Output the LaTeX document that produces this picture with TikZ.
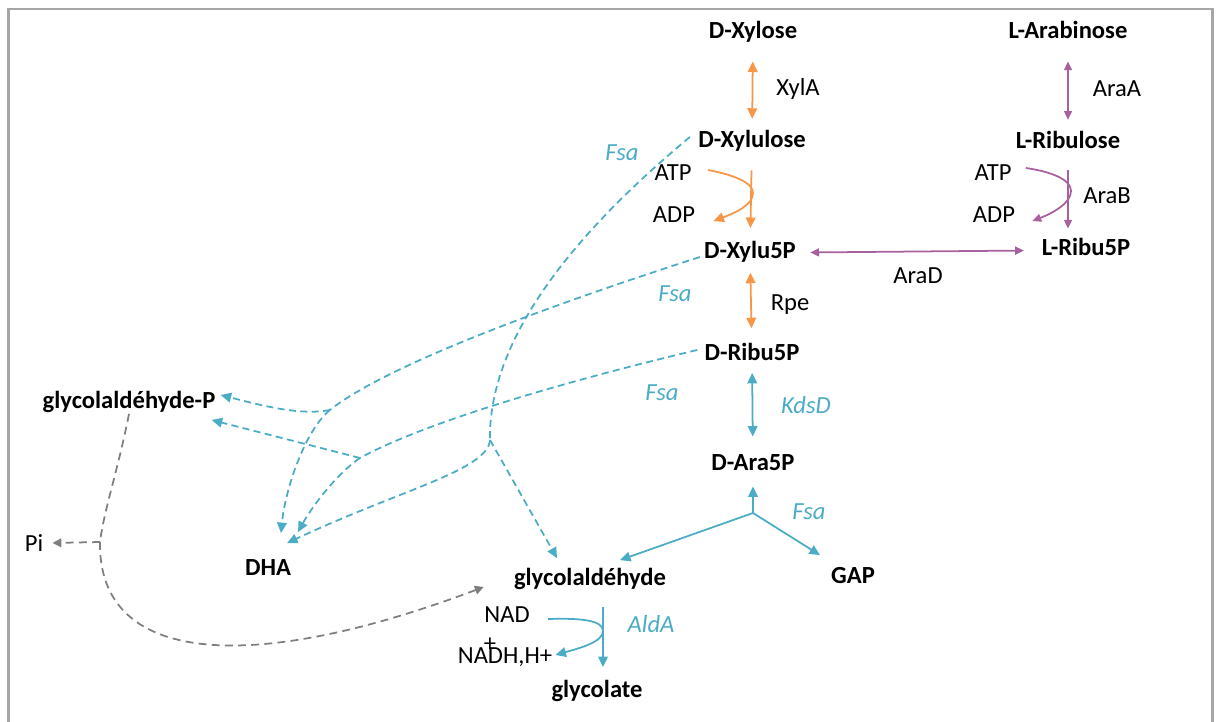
\documentclass[tikz,border=0pt]{standalone}
\usepackage{fontspec}
\setmainfont{Carlito}
\usetikzlibrary{arrows.meta,positioning,calc}
\definecolor{xylorange}{HTML}{F79646}
\definecolor{arapurple}{HTML}{A6619E}
\definecolor{fsablue}{HTML}{4BACC6}
\definecolor{pigray}{HTML}{7F7F7F}
\definecolor{framegray}{HTML}{A6A6A6}

\begin{document}
\begin{tikzpicture}[x=0.02cm, y=-0.02cm,
    >={Triangle[length=6pt,width=5.5pt]},
    met/.style={font=\fontsize{14}{16}\selectfont\bfseries, inner sep=0pt,
                text height=9pt, text depth=3pt},
    cof/.style={font=\fontsize{14}{16}\selectfont, inner sep=0pt,
                text height=9pt, text depth=3pt},
    enz/.style={cof, text=fsablue, font=\fontsize{14}{16}\selectfont\itshape},
    oline/.style={draw=xylorange, line width=1pt},
    pline/.style={draw=arapurple, line width=1pt, >={Triangle[length=5pt,width=4.5pt]}},
    bline/.style={draw=fsablue, line width=1pt},
    bdash/.style={draw=fsablue, line width=1pt, dash pattern=on 4pt off 2.5pt},
    gdash/.style={draw=pigray, line width=1pt, dash pattern=on 4.5pt off 3pt},
]
    \useasboundingbox (0,0) rectangle (1216,722);
    \draw[framegray, line width=1.2pt] (8.5,740) -- (8.5,9) -- (1212.5,9) -- (1212.5,740);

    % metabolites
    \node[met] (xylose)    at (753,33)   {D-Xylose};
    \node[met] (arabinose) at (1068,33)  {L-Arabinose};
    \node[met] (xylulose)  at (752,142)  {D-Xylulose};
    \node[met] (ribulose)  at (1068,143) {L-Ribulose};
    \node[met] (xylu5p)    at (750,253)  {D-Xylu5P};
    \node[met] (lribu5p)   at (1086,250) {L-Ribu5P};
    \node[met] (dribu5p)   at (752,355)  {D-Ribu5P};
    \node[met] (ara5p)     at (753,465)  {D-Ara5P};
    \node[met] (glyP)      at (129,403)  {glycolaldéhyde-P};
    \node[met] (dha)       at (268,570)  {DHA};
    \node[met] (glyald)    at (590,580)  {glycolaldéhyde};
    \node[met] (gap)       at (853,578)  {GAP};
    \node[met] (glycolate) at (597,692)  {glycolate};

    % cofactors
    \node[cof] (atpA) at (673,175) {ATP};
    \node[cof] (adpA) at (674,217) {ADP};
    \node[cof] (atpB) at (993,175) {ATP};
    \node[cof] (adpB) at (994,217) {ADP};
    \node[cof] (pi)   at (34,546)  {Pi};
    \node[cof] (nad)  at (507,617) {NAD};
    \node[cof] (nadh) at (505,658) {NADH,H+};
    \node[cof] (plus) at (490,646) {+};

    % enzymes
    \node[cof] (xyla) at (798,90)  {XylA};
    \node[cof] (araa) at (1117,91) {AraA};
    \node[cof] (arab) at (1107,198) {AraB};
    \node[cof] (arad) at (918,278) {AraD};
    \node[cof] (rpe)  at (790,305) {Rpe};
    \node[enz] (fsa1) at (622,155) {Fsa};
    \node[enz] (fsa2) at (675,296) {Fsa};
    \node[enz] (fsa3) at (662,395) {Fsa};
    \node[enz] (fsa4) at (809,514) {Fsa};
    \node[enz] (kdsd) at (806,408) {KdsD};
    \node[enz] (alda) at (651,627) {AldA};

    \coordinate (fj)  at (753,513);
    \coordinate (ald) at (603,631);
    \coordinate (jA)  at (490,440);
    \coordinate (jB)  at (330,410);
    \coordinate (jC)  at (360,458);
    \coordinate (gj)  at (100,542);

    % xylose branch
    \draw[oline,<->,shorten <=10pt,shorten >=7pt] (xylose) -- (xylulose);
    \draw[oline,->,shorten <=10pt,shorten >=8pt] (xylulose) -- (xylu5p);
    \draw[oline,->] ($(atpA.east)+(16,-5)$) .. controls (735,175) and (753,183) .. (753,193)
        .. controls (753,205) and (735,213) .. ($(adpA.east)+(18,4)$);
    \draw[oline,<->,shorten <=5pt,shorten >=9pt] (xylu5p) -- (dribu5p);

    % arabinose branch
    \draw[pline,<->,shorten <=10pt,shorten >=7pt] (arabinose) -- (ribulose);
    \draw[pline,->,shorten <=9pt,shorten >=6pt] (ribulose) -- (ribulose |- lribu5p.north);
    \draw[pline,->] ($(atpB.east)+(14,-7)$) .. controls (1053,172) and (1071,180) .. (1071,191)
        .. controls (1071,203) and (1053,213) .. ($(adpB.east)+(17,4)$);
    \draw[pline,<->,shorten <=8pt,shorten >=10pt] (xylu5p) -- (lribu5p);

    % KdsD, Fsa, AldA
    \draw[bline,<->,shorten <=4pt,shorten >=10pt] (dribu5p) -- (ara5p);
    \draw[bline,->,shorten >=6pt] (fj) -- (ara5p);
    \draw[bline,->] (fj) -- ($(glyald.north)+(30,-9)$);
    \draw[bline,->] (fj) -- ($(gap.north)+(-33,-12)$);
    \draw[bline,->,shorten <=9pt,shorten >=8pt] (glyald.south -| ald) -- (glycolate.north -| ald);
    \draw[bline,->] ($(nad.east)+(18,2)$) .. controls (580,618) and (603,620) .. (ald)
        .. controls (603,642) and (580,648) .. ($(nadh.east)+(3,-3)$);

    % Fsa cleavages (dashed)
    \draw[bdash] ($(xylulose.west)+(-8,-5)$) .. controls (590,220) and (488,330) .. (jA);
    \draw[bdash,->] (jA) -- ($(glyald.north)+(-33,-11)$);
    \draw[bdash,->] (jA) .. controls (488,470) and (400,490) .. ($(dha.north)+(19,-16)$);

    \draw[bdash] ($(xylu5p.west)+(-4,4)$) .. controls (520,315) and (380,370) .. (jB);
    \draw[bdash,->] (jB) .. controls (300,416) and (260,405) .. ($(glyP.east)+(5,-8)$);
    \draw[bdash,->] (jB) .. controls (305,430) and (285,490) .. ($(dha.north)+(13,-26)$);

    \draw[bdash] ($(dribu5p.west)+(-7,-5)$) .. controls (550,385) and (420,425) .. (jC);
    \draw[bdash,->] (jC) -- ($(glyP.east)+(-4,17)$);
    \draw[bdash,->] (jC) .. controls (335,475) and (310,510) .. ($(dha.north)+(30,-27)$);

    % phosphatase (gray)
    \draw[gdash,>={Triangle[length=5pt,width=5pt]}] (glyP.south) .. controls (118,470) and (104,510) .. (gj);
    \draw[gdash,->,>={Triangle[length=5pt,width=5pt]}] (gj) -- ($(pi.east)+(9,-3)$);
    \draw[gdash,->,>={Triangle[length=5pt,width=5pt]}] (gj) .. controls (98,665) and (250,675) .. ($(glyald.west)+(-30,7)$);
\end{tikzpicture}
\end{document}
